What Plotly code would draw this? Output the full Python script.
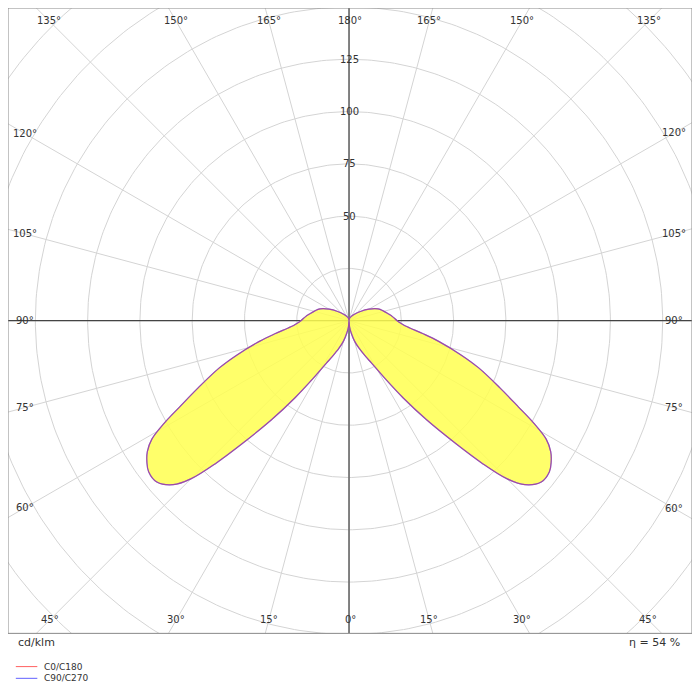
import numpy as np
import plotly.graph_objects as go

# Luminous intensity distribution (cd/klm) vs gamma angle (deg from nadir)
gamma = [0, 5, 10, 15, 20, 25, 28, 32, 35, 38, 41, 43, 45, 47, 50, 53, 55, 57, 59, 61, 63, 66, 70, 73, 77, 80, 84, 87, 90, 95, 100, 106, 112, 120, 129, 140, 155, 170, 180]
intensity = [0, 3, 6, 10, 14, 19, 23, 33, 45, 60, 78, 93, 107, 115, 120, 120, 118, 115, 110, 101, 91, 79, 66, 56, 44, 36, 28, 25, 23, 21, 19, 17, 15, 11, 7, 4, 2, 1, 0]
ring_values = [25, 50, 75, 100, 125, 150, 175, 200, 225]
ring_labels = [50, 75, 100, 125]
spoke_angles = list(range(0, 181, 15))
eta_text = "η = 54 %"
unit_text = "cd/klm"

CX, CY = 349, 320
S = 53.5 / 25.0  # px per cd/klm

fig = go.Figure()
shapes = []
th = np.linspace(0, 2 * np.pi, 361)
for rv in ring_values:
    r = rv * S
    fig.add_trace(go.Scatter(x=CX + r * np.cos(th), y=CY + r * np.sin(th), mode="lines",
                             line=dict(color="#d4d4d4", width=1), hoverinfo="skip", showlegend=False))
for a in spoke_angles:
    g = np.radians(a)
    for sgn in (1, -1):
        fig.add_trace(go.Scatter(x=[CX, CX + sgn * 600 * np.sin(g)], y=[CY, CY + 600 * np.cos(g)], mode="lines",
                                 line=dict(color="#d4d4d4", width=1), hoverinfo="skip", showlegend=False))
fig.add_trace(go.Scatter(x=[0, 700], y=[CY, CY], mode="lines", line=dict(color="#444", width=1.2),
                         hoverinfo="skip", showlegend=False))
fig.add_trace(go.Scatter(x=[CX, CX], y=[0, 640], mode="lines", line=dict(color="#444", width=1.2),
                         hoverinfo="skip", showlegend=False))

ga = np.radians(np.array(gamma, float))
iv = np.array(intensity, float) * S
xr = CX + iv * np.sin(ga)
yr = CY + iv * np.cos(ga)
xl = CX - iv[::-1] * np.sin(ga[::-1])
yl = CY + iv[::-1] * np.cos(ga[::-1])
xs = np.concatenate([xr, xl])
ys = np.concatenate([yr, yl])
fig.add_trace(go.Scatter(x=xs, y=ys, mode="lines", fill="toself", fillcolor="rgba(255,255,80,0.85)",
                         line=dict(color="#6f74ff", width=1.2, shape="spline"), hoverinfo="skip", showlegend=False))
fig.add_trace(go.Scatter(x=xs, y=ys, mode="lines", line=dict(color="rgba(200,40,90,0.55)", width=1.2, shape="spline"),
                         hoverinfo="skip", showlegend=False))

ann = []
for rv in ring_labels:
    ann.append(dict(x=CX, y=CY - rv * S, text=str(rv), showarrow=False, xref="x", yref="y",
                    font=dict(size=10, color="#333"), xanchor="center", yanchor="middle"))
x0, x1, y0, y1 = 17, 682, 13, 626
for a in spoke_angles:
    g = np.radians(a)
    for sgn in ((1, -1) if 0 < a < 180 else (1,)):
        dx, dy = sgn * np.sin(g), np.cos(g)
        ts = []
        if dx > 1e-9: ts.append((x1 - CX) / dx)
        if dx < -1e-9: ts.append((x0 - CX) / dx)
        if dy > 1e-9: ts.append((y1 - CY) / dy)
        if dy < -1e-9: ts.append((y0 - CY) / dy)
        t = min(ts)
        px = min(max(CX + t * dx, x0), x1)
        py = min(max(CY + t * dy, y0), y1)
        if a in (0, 180):
            px = CX + 1
        ann.append(dict(x=px, y=py, text=f"{a}°", showarrow=False, xref="x", yref="y",
                        font=dict(size=10, color="#333"), xanchor="center", yanchor="middle"))

ann += [
    dict(x=8 / 700, y=1 - 649 / 700, text=unit_text, showarrow=False, xref="paper", yref="paper",
         xanchor="left", yanchor="middle", font=dict(size=11, color="#333")),
    dict(x=690 / 700, y=1 - 649 / 700, text=eta_text, showarrow=False, xref="paper", yref="paper",
         xanchor="right", yanchor="middle", font=dict(size=11, color="#333")),
    dict(x=35 / 700, y=1 - 674 / 700, text="C0/C180", showarrow=False, xref="paper", yref="paper",
         xanchor="left", yanchor="middle", font=dict(size=9, color="#333")),
    dict(x=35 / 700, y=1 - 686 / 700, text="C90/C270", showarrow=False, xref="paper", yref="paper",
         xanchor="left", yanchor="middle", font=dict(size=9, color="#333")),
]
shapes += [
    dict(type="line", xref="paper", yref="paper", x0=8 / 700, x1=30 / 700, y0=1 - 674 / 700, y1=1 - 674 / 700,
         line=dict(color="#ff6060", width=1)),
    dict(type="line", xref="paper", yref="paper", x0=8 / 700, x1=30 / 700, y0=1 - 686 / 700, y1=1 - 686 / 700,
         line=dict(color="#6060ff", width=1)),
    dict(type="rect", xref="paper", yref="paper", x0=0, x1=1, y0=60 / 700, y1=1,
         line=dict(color="#888", width=1)),
]

fig.update_layout(
    width=684, height=684, margin=dict(l=0, r=0, t=0, b=0),
    paper_bgcolor="white", plot_bgcolor="white",
    xaxis=dict(range=[0, 700], visible=False, fixedrange=True),
    yaxis=dict(range=[640, 0], domain=[60 / 700, 1], visible=False, fixedrange=True),
    annotations=ann, shapes=shapes,
    font=dict(family="DejaVu Sans"),
)
fig.write_html("out.html")
